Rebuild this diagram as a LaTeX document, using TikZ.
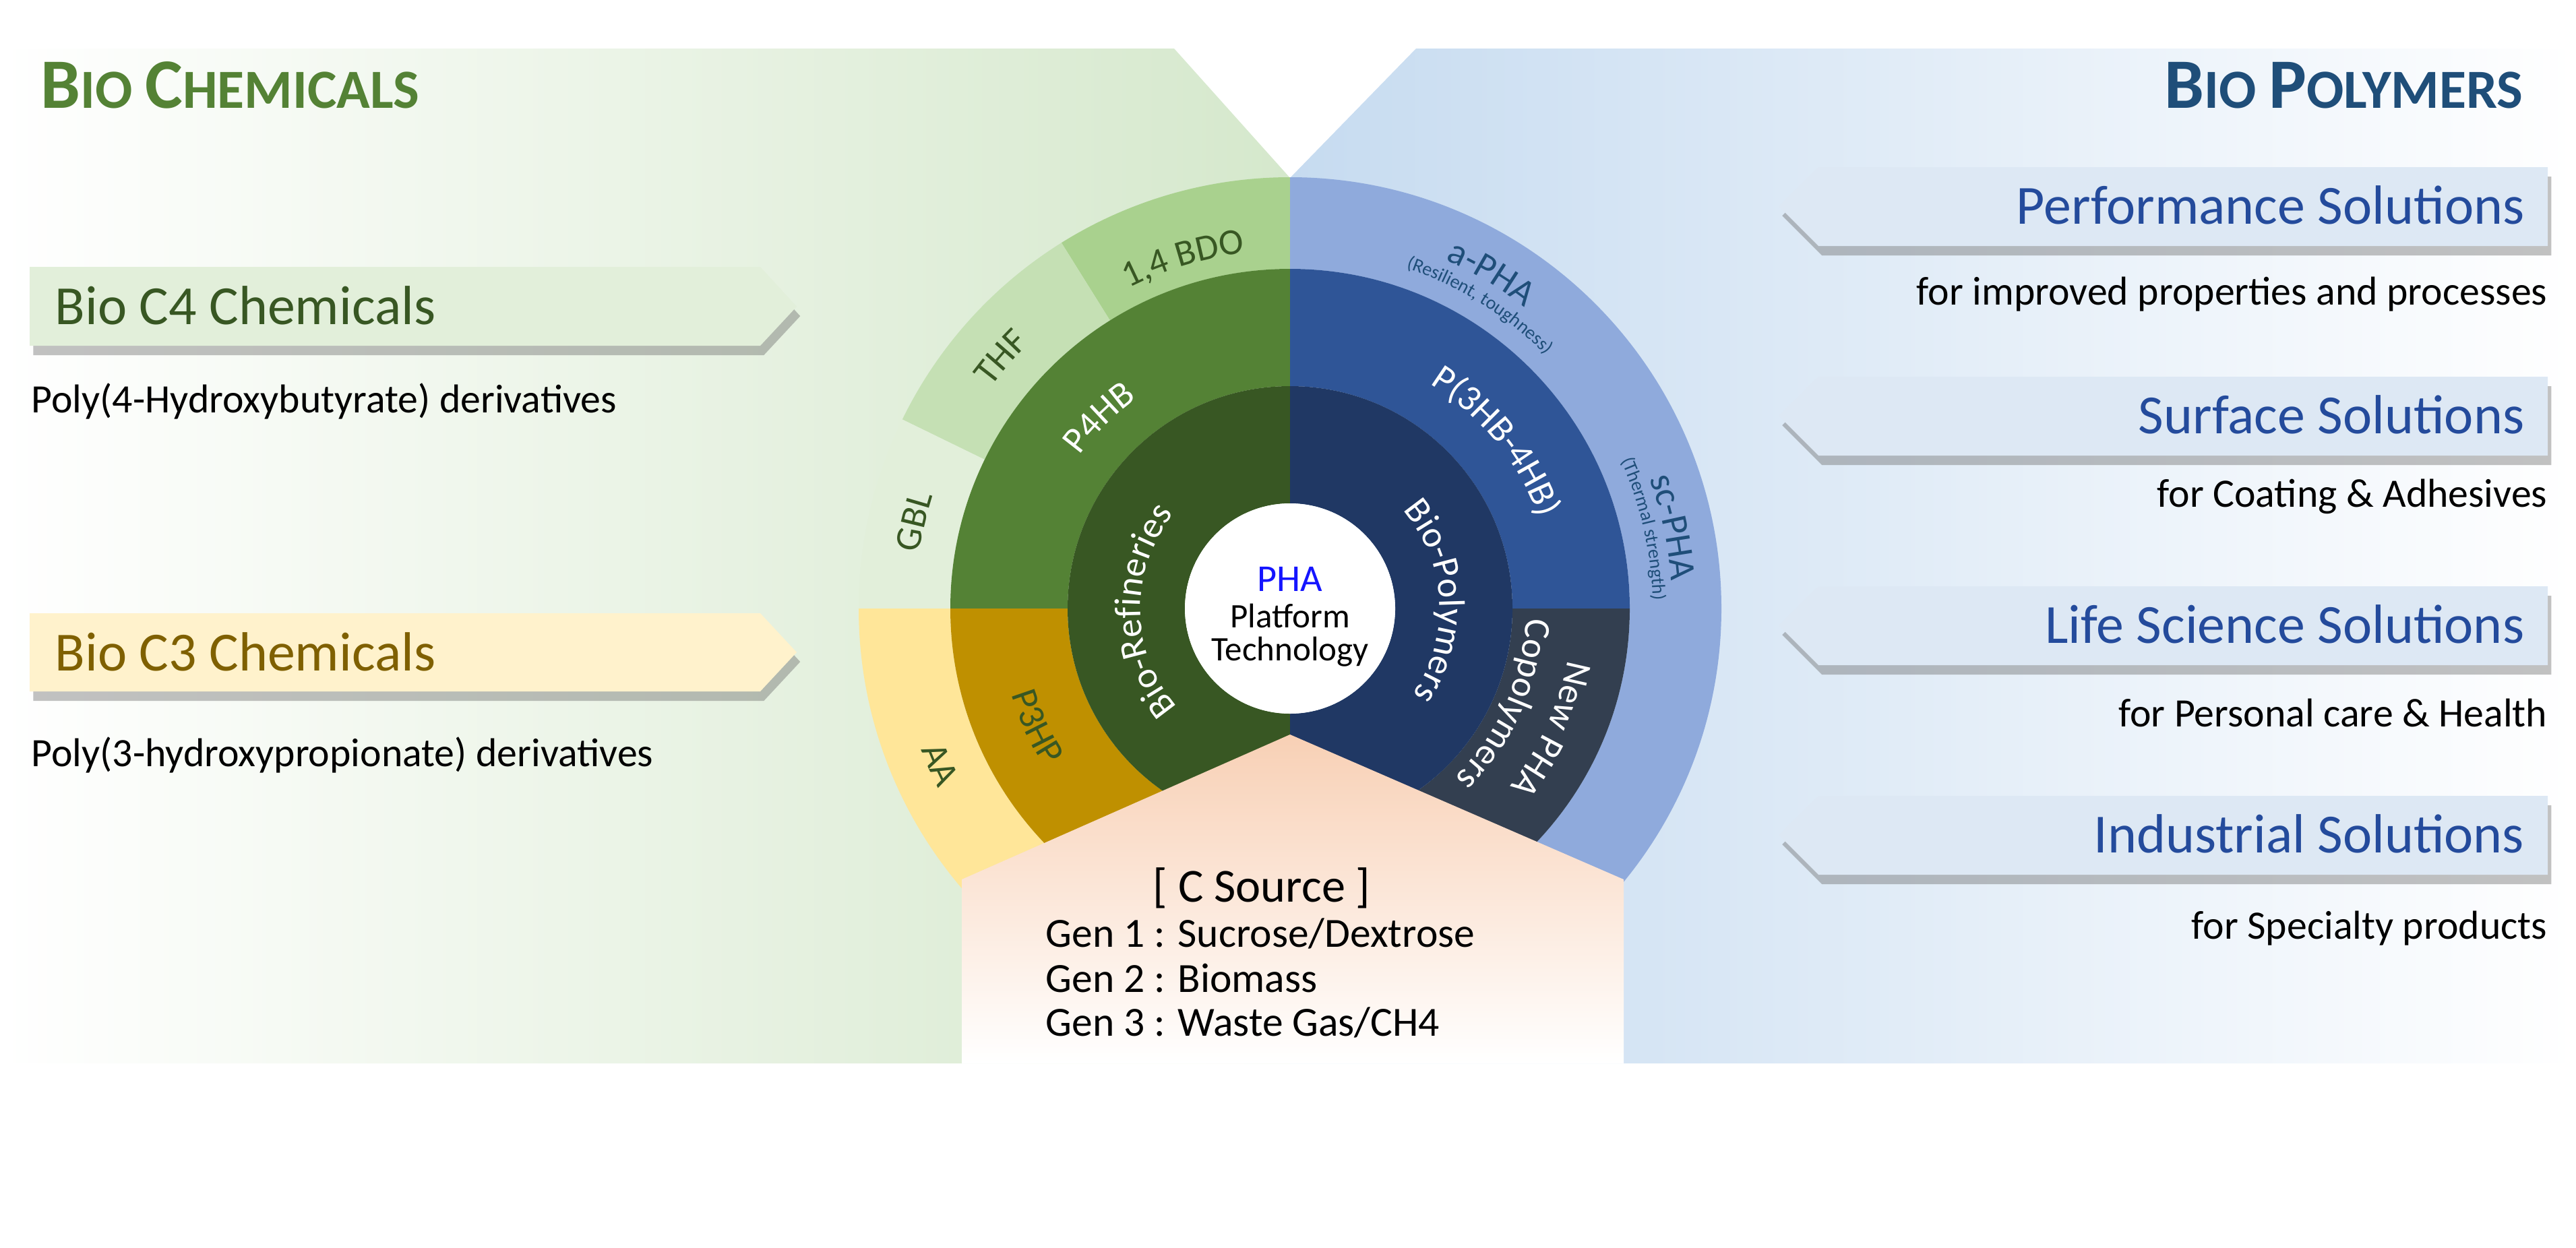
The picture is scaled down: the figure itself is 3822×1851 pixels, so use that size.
\documentclass[tikz,border=0pt]{standalone}
\usepackage{fontspec}
\setmainfont{Carlito}
\usetikzlibrary{decorations.text,shadows}

\definecolor{bdoGreen}{HTML}{A9D18E}
\definecolor{thfGreen}{HTML}{C5E0B4}
\definecolor{gblGreen}{HTML}{E2EFDA}
\definecolor{aaYellow}{HTML}{FFE699}
\definecolor{phbGreen}{HTML}{548235}
\definecolor{phpGold}{HTML}{BF9000}
\definecolor{refGreen}{HTML}{385723}
\definecolor{polyNavy}{HTML}{203864}
\definecolor{hbBlue}{HTML}{2F5597}
\definecolor{copoSlate}{HTML}{333F50}
\definecolor{outerBlue}{HTML}{8FAADC}
\definecolor{srcPeach}{HTML}{F8D0B5}
\definecolor{panelGreen}{HTML}{D5E8CC}
\definecolor{panelBlue}{HTML}{C6DBF0}
\definecolor{tagGreen}{HTML}{E2EFDA}
\definecolor{tagYellow}{HTML}{FFF2CC}
\definecolor{tagBlue}{HTML}{DDE8F4}
\definecolor{headGreen}{HTML}{548235}
\definecolor{headBlue}{HTML}{1F4E79}
\definecolor{txtGreen}{HTML}{385723}
\definecolor{txtGold}{HTML}{7F6000}
\definecolor{solBlue}{HTML}{244B9C}
\definecolor{phaBlue}{HTML}{1515FF}
\definecolor{labBlue}{HTML}{1F4E79}

\tikzset{
  tagshadow/.style={drop shadow={shadow xshift=1.5pt, shadow yshift=-4pt, opacity=0.4, fill=black!60}},
  head/.style={font=\bfseries\fontsize{23.3}{28}\selectfont, inner sep=0pt},
  tagtitle/.style={font=\fontsize{23.3}{28}\selectfont, inner sep=0pt},
  desc/.style={font=\fontsize{17}{20}\selectfont, inner sep=0pt},
  srctext/.style={font=\fontsize{17.5}{21}\selectfont, inner sep=0pt},
  coretext/.style={font=\fontsize{14.5}{17}\selectfont, inner sep=0pt}
}

\newcommand{\initcap}[1]{{\fontsize{29.9}{32}\selectfont #1}}
\newcommand{\ringfont}{\fontsize{15.6}{18}\selectfont}
\newcommand{\notefont}{\fontsize{8}{10}\selectfont}

% one piece of a ring: colour, from angle, to angle, outer r, inner r
\newcommand{\ringseg}[5]{\fill[#1] (#2:#4) arc[start angle=#2, end angle=#3, radius=#4] -- (#3:#5) arc[start angle=#3, end angle=#2, radius=#5] -- cycle;}
% text on an arc, clockwise (tops out) / counter clockwise (tops in)
\newcommand{\cwlabel}[4]{\path[decorate, decoration={text along path, text align=center, text={|#1|#4}}] (#2+60:#3) arc[start angle=#2+60, end angle=#2-60, radius=#3];}
\newcommand{\ccwlabel}[4]{\path[decorate, decoration={text along path, text align=center, text={|#1|#4}}] (#2-60:#3) arc[start angle=#2-60, end angle=#2+60, radius=#3];}

\begin{document}
\begin{tikzpicture}[x=0.01cm, y=0.01cm]
            \useasboundingbox (0,0) rectangle (3822,-1851);

            % panels
            \shade[left color=white, right color=panelGreen] (0,-72) -- (1742,-72) -- (1914,-264) -- (1914,-1578) -- (0,-1578) -- cycle;
            \shade[left color=panelBlue, right color=white] (1914,-264) -- (2101,-72) -- (3822,-72) -- (3822,-1578) -- (1914,-1578) -- cycle;

            % rings
            \begin{scope}[shift={(1914,-903)}]
                \ringseg{bdoGreen}{90}{122}{640}{504}
                \ringseg{thfGreen}{122}{154}{640}{504}
                \ringseg{gblGreen}{154}{180}{640}{504}
                \ringseg{aaYellow}{180}{270}{640}{504}
                \ringseg{outerBlue}{-90}{90}{640}{504}
                \ringseg{phbGreen}{90}{180}{504}{330}
                \ringseg{phpGold}{180}{270}{504}{330}
                \ringseg{hbBlue}{0}{90}{504}{330}
                \ringseg{copoSlate}{-90}{0}{504}{330}
                \ringseg{refGreen}{90}{270}{330}{156}
                \ringseg{polyNavy}{-90}{90}{330}{156}
                \fill[white] (0,0) circle[radius=156];
            \end{scope}

            % C source
            \shade[top color=srcPeach, bottom color=white] (1914,-1090) -- (2409,-1305) -- (2409,-1578) -- (1427,-1578) -- (1427,-1305) -- cycle;

            % ring labels
            \begin{scope}[shift={(1914,-903)}]
                \cwlabel{\ringfont\color{txtGreen}}{107}{532}{1,4 BDO}
                \cwlabel{\ringfont\color{txtGreen}}{139}{552}{THF}
                \cwlabel{\ringfont\color{txtGreen}}{167}{556}{GBL}
                \ccwlabel{\ringfont\color{txtGreen}}{204}{586}{AA}
                \ccwlabel{\ringfont\color{txtGreen}}{205}{433}{P3HP}
                \cwlabel{\ringfont\color{white}}{135}{386}{P4HB}
                \cwlabel{\ringfont\color{white}}{39}{393}{P(3HB-4HB)}
                \cwlabel{\ringfont\color{white}}{181}{222}{Bio-Refineries}
                \cwlabel{\ringfont\color{white}}{3}{222}{Bio-Polymers}
                \cwlabel{\ringfont\color{labBlue}}{59}{566}{a-PHA}
                \cwlabel{\notefont\color{labBlue}}{58}{534}{(Resilient, toughness)}
                \cwlabel{\ringfont\color{labBlue}}{12}{567}{sc-PHA}
                \cwlabel{\notefont\color{labBlue}}{12.7}{538}{(Thermal strength)}
                \cwlabel{\ringfont\color{white}}{-24.7}{419}{New PHA}
                \cwlabel{\ringfont\color{white}}{-24}{350}{Copolymers}
            \end{scope}

            \node[coretext, font=\fontsize{16}{19}\selectfont, text=phaBlue, anchor=base] (PHA) at (1914,-877) {PHA};
            \node[coretext, anchor=base] (Platform) at (1914,-931) {Platform};
            \node[coretext, anchor=base] (Technology) at (1914,-980) {Technology};

            \node[srctext, font=\fontsize{20}{24}\selectfont, anchor=base] (Source) at (1872,-1338) {[ C Source ]};
            \node[srctext, anchor=base west] (Gen1) at (1551,-1405) {Gen 1 : Sucrose/Dextrose};
            \node[srctext, anchor=base west] (Gen2) at (1551,-1472) {Gen 2 : Biomass};
            \node[srctext, anchor=base west] (Gen3) at (1551,-1537) {Gen 3 : Waste Gas/CH4};

            % left side
            \node[head, text=headGreen, anchor=base west] (ChemHead) at (60,-160) {\initcap{B}IO \initcap{C}HEMICALS};

            \path[fill=tagGreen, tagshadow] (44,-396) -- (1128,-396) -- (1182,-455) -- (1128,-513) -- (44,-513) -- cycle;
            \node[tagtitle, text=txtGreen, anchor=base west] (C4Tag) at (81,-481) {Bio C4 Chemicals};
            \node[desc, anchor=base west] (C4Desc) at (46,-612) {Poly(4-Hydroxybutyrate) derivatives};

            \path[fill=tagYellow, tagshadow] (44,-910) -- (1128,-910) -- (1182,-968) -- (1128,-1026) -- (44,-1026) -- cycle;
            \node[tagtitle, text=txtGold, anchor=base west] (C3Tag) at (81,-995) {Bio C3 Chemicals};
            \node[desc, anchor=base west] (C3Desc) at (46,-1137) {Poly(3-hydroxypropionate) derivatives};

            % right side
            \node[head, text=headBlue, anchor=base east] (PolyHead) at (3744,-160) {\initcap{B}IO \initcap{P}OLYMERS};

            \path[fill=tagBlue, tagshadow] (2698,-248) -- (3780,-248) -- (3780,-365) -- (2698,-365) -- (2639,-306) -- cycle;
            \node[tagtitle, text=solBlue, anchor=base east] (PerfTag) at (3746,-332) {Performance Solutions};
            \node[desc, anchor=base east] (PerfDesc) at (3780,-452) {for improved properties and processes};

            \path[fill=tagBlue, tagshadow] (2698,-559) -- (3780,-559) -- (3780,-676) -- (2698,-676) -- (2639,-617) -- cycle;
            \node[tagtitle, text=solBlue, anchor=base east] (SurfTag) at (3746,-643) {Surface Solutions};
            \node[desc, anchor=base east] (SurfDesc) at (3780,-752) {for Coating \& Adhesives};

            \path[fill=tagBlue, tagshadow] (2698,-870) -- (3780,-870) -- (3780,-987) -- (2698,-987) -- (2639,-928) -- cycle;
            \node[tagtitle, text=solBlue, anchor=base east] (LifeTag) at (3746,-954) {Life Science Solutions};
            \node[desc, anchor=base east] (LifeDesc) at (3780,-1078) {for Personal care \& Health};

            \path[fill=tagBlue, tagshadow] (2698,-1181) -- (3780,-1181) -- (3780,-1298) -- (2698,-1298) -- (2639,-1239) -- cycle;
            \node[tagtitle, text=solBlue, anchor=base east] (IndTag) at (3746,-1265) {Industrial Solutions};
            \node[desc, anchor=base east] (IndDesc) at (3780,-1393) {for Specialty products};
        \end{tikzpicture}
\end{document}
